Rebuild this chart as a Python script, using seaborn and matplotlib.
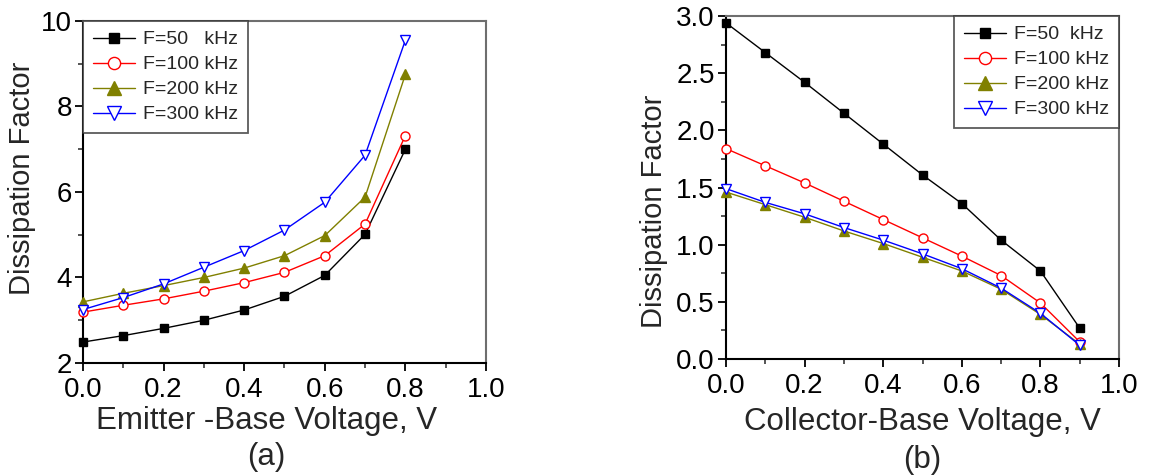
import numpy as np
import pandas as pd
import matplotlib
matplotlib.use("Agg")
import matplotlib.pyplot as plt
import seaborn as sns
from matplotlib.ticker import MultipleLocator

sns.set_theme(style="white")
plt.rcParams['font.family'] = ['Liberation Sans', 'DejaVu Sans']

# Emitter-base sweep
veb = [0.0, 0.1, 0.2, 0.3, 0.4, 0.5, 0.6, 0.7, 0.8]
eb_50k = [2.49, 2.64, 2.81, 3.00, 3.24, 3.56, 4.05, 5.01, 7.00]
eb_100k = [3.19, 3.35, 3.50, 3.68, 3.88, 4.12, 4.51, 5.25, 7.32]
eb_200k = [3.43, 3.63, 3.81, 4.00, 4.22, 4.51, 4.98, 5.88, 8.75]
eb_300k = [3.25, 3.53, 3.85, 4.24, 4.63, 5.11, 5.76, 6.86, 9.55]

# Collector-base sweep
vcb = [0.0, 0.1, 0.2, 0.3, 0.4, 0.5, 0.6, 0.7, 0.8, 0.9]
cb_50k = [2.94, 2.68, 2.42, 2.15, 1.88, 1.61, 1.36, 1.04, 0.77, 0.27]
cb_100k = [1.84, 1.69, 1.54, 1.38, 1.22, 1.06, 0.90, 0.73, 0.49, 0.15]
cb_200k = [1.46, 1.35, 1.24, 1.12, 1.01, 0.89, 0.77, 0.61, 0.39, 0.13]
cb_300k = [1.49, 1.37, 1.27, 1.15, 1.04, 0.92, 0.79, 0.62, 0.40, 0.12]

styles = [
    dict(color="black", marker="s", markerfacecolor="black", markeredgecolor="black", markersize=5.5),
    dict(color="red", marker="o", markerfacecolor="white", markeredgecolor="red", markersize=6.5),
    dict(color="#808000", marker="^", markerfacecolor="#808000", markeredgecolor="#808000", markersize=7),
    dict(color="blue", marker="v", markerfacecolor="white", markeredgecolor="blue", markersize=7),
]

fig = plt.figure(figsize=(11.59, 4.75), dpi=100)
ax1 = fig.add_axes([0.0716, 0.2358, 0.3477, 0.7200])
ax2 = fig.add_axes([0.6264, 0.2442, 0.3391, 0.7221])


def draw(ax, x, series, labels):
    for ys, lab, st in zip(series, labels, styles):
        sns.lineplot(x=x, y=ys, ax=ax, label=lab, linewidth=1.0,
                     markeredgewidth=1.0, clip_on=False, zorder=3, **st)


def style_axes(ax):
    for side in ("left", "bottom"):
        ax.spines[side].set_color("black")
        ax.spines[side].set_linewidth(1.5)
    for side in ("top", "right"):
        ax.spines[side].set_color("#6e6e6e")
        ax.spines[side].set_linewidth(1.5)
    ax.tick_params(axis="both", which="major", direction="out", length=6, width=1.3,
                   labelsize=20, colors="black", bottom=True, left=True, pad=2)
    ax.tick_params(axis="x", which="major", pad=4)
    ax.tick_params(axis="both", which="minor", direction="out", length=3.5, width=1.1,
                   bottom=True, left=True)
    ax.set_xlim(0, 1.0)
    ax.xaxis.set_major_locator(MultipleLocator(0.2))
    ax.xaxis.set_minor_locator(MultipleLocator(0.1))
    ax.xaxis.set_major_formatter(matplotlib.ticker.FormatStrFormatter("%.1f"))


def make_legend(ax, loc):
    leg = ax.legend(loc=loc, fontsize=14, frameon=True, fancybox=False,
                    edgecolor="#333333", borderpad=0.5, handlelength=2.2,
                    handletextpad=0.4, labelspacing=0.38, markerscale=1.35,
                    borderaxespad=0)
    leg.get_frame().set_linewidth(1.3)
    return leg


draw(ax1, veb, [eb_50k, eb_100k, eb_200k, eb_300k],
     ["F=50   kHz", "F=100 kHz", "F=200 kHz", "F=300 kHz"])
style_axes(ax1)
ax1.set_ylim(2, 10)
ax1.yaxis.set_major_locator(MultipleLocator(2))
ax1.yaxis.set_minor_locator(MultipleLocator(1))
ax1.set_xlabel("")
ax1.set_ylabel("Dissipation Factor", fontsize=21)
ax1.yaxis.set_label_coords(-0.117, 0.54)
make_legend(ax1, "upper left")
fig.text(0.230, 1 - 421 / 475, "Emitter -Base Voltage, V", fontsize=22.5,
         ha="center", va="center")
fig.text(0.230, 1 - 457 / 475, "(a)", fontsize=22.5, ha="center", va="center")

draw(ax2, vcb, [cb_50k, cb_100k, cb_200k, cb_300k],
     ["F=50  kHz", "F=100 kHz", "F=200 kHz", "F=300 kHz"])
style_axes(ax2)
ax2.set_ylim(0, 3.0)
ax2.yaxis.set_major_locator(MultipleLocator(0.5))
ax2.yaxis.set_minor_locator(MultipleLocator(0.25))
ax2.yaxis.set_major_formatter(matplotlib.ticker.FormatStrFormatter("%.1f"))
ax2.set_xlabel("")
ax2.set_ylabel("Dissipation Factor", fontsize=21)
ax2.yaxis.set_label_coords(-0.148, 0.43)
make_legend(ax2, "upper right")
fig.text(922 / 1159, 1 - 422 / 475, "Collector-Base Voltage, V", fontsize=22.5,
         ha="center", va="center")
fig.text(922 / 1159, 1 - 460 / 475, "(b)", fontsize=22.5, ha="center", va="center")

fig.savefig("out.png", dpi=100, facecolor="white")
